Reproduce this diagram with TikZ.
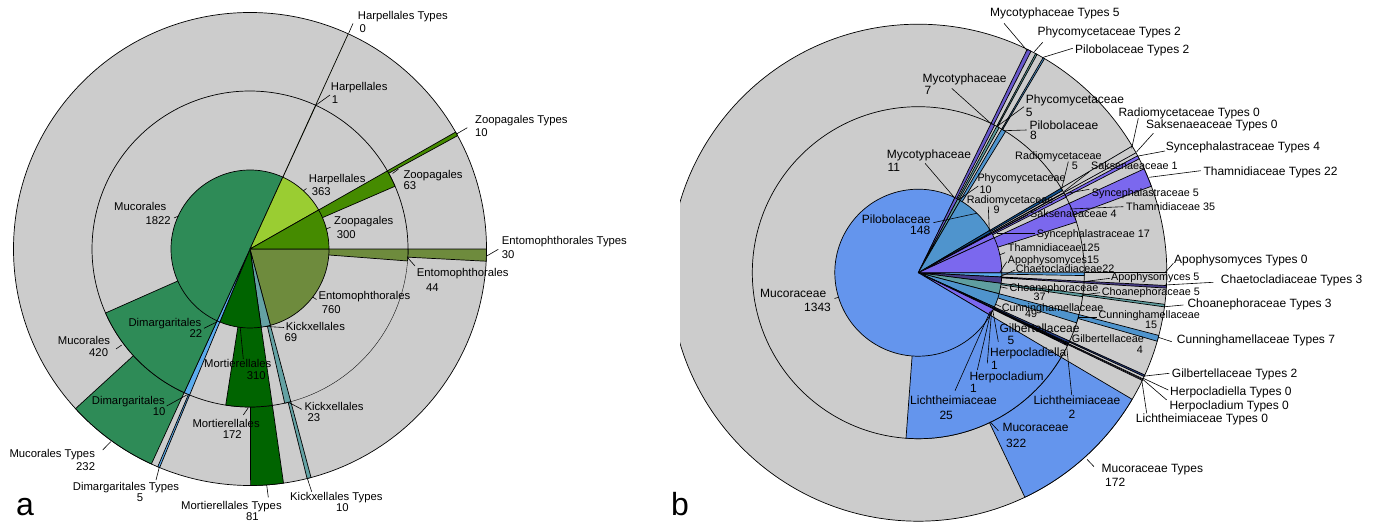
\documentclass[tikz,border=0pt]{standalone}
\usepackage{fontspec}
\setmainfont{Liberation Sans}
\usepackage{xcolor}
\usepackage{tikz}
\usetikzlibrary{
	calc								% Calculate point coordinates
}
\definecolor{ringgrey}{HTML}{CCCCCC}
% Orders (panel a)
\definecolor{entoCol}{HTML}{6E8B3D}
\definecolor{kickCol}{HTML}{64A2A4}
\definecolor{mortCol}{HTML}{006400}
\definecolor{dimaCol}{HTML}{5CACEE}
\definecolor{mucoACol}{HTML}{2E8B57}
\definecolor{harpCol}{HTML}{9ACD32}
\definecolor{zoopCol}{HTML}{458B00}
% Families (panel b)
\definecolor{apoCol}{HTML}{5CACEE}
\definecolor{chaeCol}{HTML}{483D8B}
\definecolor{choaCol}{HTML}{5F9EA0}
\definecolor{cunnCol}{HTML}{4F94CD}
\definecolor{gilbCol}{HTML}{27408B}
\definecolor{hplaCol}{HTML}{483D8B}
\definecolor{hplmCol}{HTML}{27408B}
\definecolor{lichCol}{HTML}{7B68EE}
\definecolor{mucoBCol}{HTML}{6495ED}
\definecolor{mycoCol}{HTML}{6959CD}
\definecolor{phycCol}{HTML}{5F9EA0}
\definecolor{piloCol}{HTML}{4F94CD}
\definecolor{radiCol}{HTML}{104E8B}
\definecolor{saksCol}{HTML}{7B68EE}
\definecolor{syncCol}{HTML}{7B68EE}
\definecolor{thamCol}{HTML}{7B68EE}

\begin{document}
\begin{tikzpicture}[x=1pt, y=1pt]
		\tikzstyle{wedge} = [draw=black, line width=0.7pt, line join=round]
		\tikzstyle{leader} = [draw=black, line width=0.6pt]
		\tikzstyle{lblA} = [font=\fontsize{11.3}{13}\selectfont, inner sep=0pt, anchor=base west]
		\tikzstyle{lblB} = [font=\fontsize{12}{14}\selectfont, inner sep=0pt, anchor=base west]
		\tikzstyle{lblBs} = [font=\fontsize{10.8}{12}\selectfont, inner sep=0pt, anchor=base west]
		\tikzstyle{panel} = [font=\fontsize{32}{32}\selectfont, inner sep=0pt, anchor=base west]
		\path[use as bounding box] (0,0) rectangle (1383,523);
		
		% Panel a: orders
		\coordinate (aCenter) at (250,274);
		\def\unitA{0.0987383}
		%% start angle / inner / middle / outer / colour
		\def\ordersA{0/760/44/30/entoCol, -75.0411/69/23/10/kickCol, -81.8540/310/172/81/mortCol, -112.4629/22/22/5/dimaCol, -114.6351/1822/420/232/mucoACol, -294.5363/363/1/0/harpCol, -330.3783/300/63/10/zoopCol}
		%% Outer ring (types)
		\filldraw[wedge, fill=ringgrey] (aCenter) circle[radius=236.5];
		\foreach \st/\nIn/\nMid/\nOut/\col in \ordersA{
			\pgfmathsetmacro{\w}{\nOut*\unitA}
			\filldraw[wedge, fill=\col] (aCenter) -- ++(\st:236.5) arc[start angle=\st, delta angle=-\w, radius=236.5] -- cycle;
		}
		%% Middle ring
		\fill[ringgrey] (aCenter) circle[radius=158];
		\draw[line width=0.7pt] (aCenter) ++(-4.3446:158) arc[start angle=-4.3446, end angle=284.9589, radius=158];
		\draw[line width=0.35pt] (aCenter) ++(-75.0411:158) arc[start angle=-75.0411, end angle=-4.3446, radius=158];
		\foreach \st/\nIn/\nMid/\nOut/\col in \ordersA{
			\pgfmathsetmacro{\w}{\nMid*\unitA}
			\filldraw[wedge, fill=\col] (aCenter) -- ++(\st:158) arc[start angle=\st, delta angle=-\w, radius=158] -- cycle;
		}
		%% Inner pie
		\foreach \st/\nIn/\nMid/\nOut/\col in \ordersA{
			\pgfmathsetmacro{\w}{\nIn*\unitA}
			\filldraw[wedge, fill=\col] (aCenter) -- ++(\st:79) arc[start angle=\st, delta angle=-\w, radius=79] -- cycle;
		}
		
		% Panel b: families of Mucorales
		\coordinate (bCenter) at (918.3,250.3);
		\def\unitB{0.1975851}
		\def\famsB{0/15/5/0/apoCol, -2.9638/22/3/3/chaeCol, -7.3107/37/5/3/choaCol, -14.6213/49/15/7/cunnCol, -24.3030/5/4/2/gilbCol, -25.2909/1/1/0/hplaCol, -25.4885/1/1/0/hplmCol, -25.6861/25/2/0/lichCol, -30.6257/1343/322/172/mucoBCol, -295.9825/11/7/5/mycoCol, -298.1559/10/5/2/phycCol, -300.1318/148/8/2/piloCol, -329.3744/9/5/0/radiCol, -331.1527/4/1/0/saksCol, -331.9430/17/5/4/syncCol, -335.3019/125/35/22/thamCol}
		\begin{scope}
			\clip (680,0) rectangle (1383,523);
			%% Outer ring (types)
			\filldraw[wedge, fill=ringgrey] (bCenter) circle[radius=248.5];
			\foreach \st/\nIn/\nMid/\nOut/\col in \famsB{
				\pgfmathsetmacro{\w}{\nOut*\unitB}
				\filldraw[wedge, fill=\col] (bCenter) -- ++(\st:248.5) arc[start angle=\st, delta angle=-\w, radius=248.5] -- cycle;
			}
			%% Middle ring
			\filldraw[wedge, fill=ringgrey] (bCenter) circle[radius=166];
			\foreach \st/\nIn/\nMid/\nOut/\col in \famsB{
				\pgfmathsetmacro{\w}{\nMid*\unitB}
				\filldraw[wedge, fill=\col] (bCenter) -- ++(\st:166) arc[start angle=\st, delta angle=-\w, radius=166] -- cycle;
			}
			%% Inner pie
			\foreach \st/\nIn/\nMid/\nOut/\col in \famsB{
				\pgfmathsetmacro{\w}{\nIn*\unitB}
				\filldraw[wedge, fill=\col] (bCenter) -- ++(\st:83.5) arc[start angle=\st, delta angle=-\w, radius=83.5] -- cycle;
			}
		\end{scope}
		
		% Labels (image coordinates, y downwards)
		\begin{scope}[yshift=523pt, yscale=-1]
			%% Panel a
			\foreach \nm/\x/\y/\txt/\vx/\vy/\val in {HarpT/357.7/19.1/Harpellales Types/359.3/32.4/0, HarpM/330.7/90.1/Harpellales/331.7/103.1/1, ZoopT/475/123.1/Zoopagales Types/475/136.4/10, ZoopM/403.3/178.1/Zoopagales/403.3/189.8/63, HarpI/308.7/182.1/Harpellales/311.7/195.8/363, ZoopI/334/224.4/Zoopagales/336.7/238.1/300, MucoI/114/210.1/Mucorales/145.3/224.1/1822, EntoI/318.3/299.1/Entomophthorales/321.7/313.1/760, KickI/285.7/330.8/Kickxellales/284.3/341.8/69, DimaI/128.3/326.4/Dimargaritales/189.3/337.4/22, MortI/204/367.4/Mortierellales/246.7/379.1/310, MucoM/57.7/344.1/Mucorales/89/356.8/420, DimaM/91.7/404.8/Dimargaritales/152.7/415.8/10, MortM/192.3/427.4/Mortierellales/222.7/438.1/172, KickM/304.3/410.1/Kickxellales/307.3/421.8/23, EntoM/416.7/276.1/Entomophthorales/426/291.8/44, EntoT/501.7/244.1/Entomophthorales Types/501.7/258.1/30, MucoT/9.3/457.4/Mucorales Types/76/470.8/232, DimaT/72.7/490.1/Dimargaritales Types/136.7/501.8/5, MortT/181/509.1/Mortierellales Types/246/520.8/81, KickT/290/500.1/Kickxellales Types/336/511.8/10}{
				\node[lblA] (aName\nm) at (\x,\y) {\txt};
				\node[lblA] (aVal\nm) at (\vx,\vy) {\val};
			}
			\foreach \nm/\xa/\ya/\xb/\yb in {HarpT/348.6/33.4/353/23.4, HarpM/315.7/105.3/330/95, ZoopT/457/133.7/467.3/127.7, ZoopM/392.5/173.5/398.5/169, HarpI/303.4/190.8/306.5/188.5, ZoopI/326.4/228.8/330.5/227.3, MucoI/178.2/216.1/174/218, EntoI/312.7/297.1/316.5/299.5, KickI/266/326.5/284/327.5, DimaI/217.3/321.7/204/328.3, MortI/240.2/327.4/243.3/359, MucoM/121.7/345/116/349, DimaM/186.7/395/166.7/406, MortM/248.3/407.7/243.3/415, KickM/289.3/402.7/301.7/409.3, EntoM/407.3/257.3/415/266, EntoT/486.7/256/498.3/249.3, MucoT/110.7/441.7/102.7/450, DimaT/159.3/467.3/156/480, MortT/266.7/485/268.3/497.3, KickT/307.3/478.3/311.7/491.7}{
				\coordinate (aTip\nm) at (\xa,\ya);
				\coordinate (aEnd\nm) at (\xb,\yb);
				\draw[leader] (aTip\nm) -- (aEnd\nm);
			}
			
			%% Panel b: one-line labels
			\foreach \nm/\x/\y/\txt/\sz in {MycoT/990/16.6/Mycotyphaceae Types 5/lblB, PhycT/1037.3/35.3/Phycomycetaceae Types 2/lblB, PiloT/1075/53.3/Pilobolaceae Types 2/lblB, RadiT/1118.3/116.3/Radiomycetaceae Types 0/lblB, SaksT/1146/128.3/Saksenaeaceae Types 0/lblB, SyncT/1165.7/150.3/Syncephalastraceae Types 4/lblB, ThamT/1203.3/175/Thamnidiaceae Types 22/lblB, ApoT/1174/263.6/Apophysomyces Types 0/lblB, ChaeT/1220.7/283.3/Chaetocladiaceae Types 3/lblB, ChoaT/1187.3/307.6/Choanephoraceae Types 3/lblB, CunnT/1176.7/343.6/Cunninghamellaceae Types 7/lblB, GilbT/1171.7/377/Gilbertellaceae Types 2/lblB, HplaT/1170/395.3/Herpocladiella Types 0/lblB, HplmT/1169.3/409.6/Herpocladium Types 0/lblB, LichT/1135.7/422.6/Lichtheimiaceae Types 0/lblB, SaksM/1091/169.9/Saksenaeaceae 1/lblBs, SyncM/1091.7/196.2/Syncephalastraceae 5/lblBs, ThamM/1126/210.6/Thamnidiaceae 35/lblBs, ApoM/1111/280.6/Apophysomyces 5/lblBs, ChoaM/1101.7/295.6/Choanephoraceae 5/lblBs, SaksI/1030/217.2/Saksenaeaceae 4/lblBs, SyncI/1036.7/237.2/Syncephalastraceae 17/lblBs, ThamI/1007.7/251.6/Thamnidiaceae125/lblBs, ApoI/1007.7/263.2/Apophysomyces15/lblBs, ChaeI/1015.7/272.2/Chaetocladiaceae22/lblBs}{
				\node[\sz] (bName\nm) at (\x,\y) {\txt};
			}
			%% Panel b: two-line labels
			\foreach \nm/\x/\y/\txt/\vx/\vy/\val/\sz in {MucoT/1101.5/472.6/Mucoraceae Types/1105/486.6/172/lblB, MycoM/922.3/82.6/Mycotyphaceae/924.3/94.3/7/lblB, PhycM/1025.7/103.6/Phycomycetaceae/1025.7/117/5/lblB, PiloM/1029.3/129.3/Pilobolaceae/1030/139.3/8/lblB, RadiM/1015/159.1/Radiomycetaceae/1071.7/169.1/5/lblBs, CunnM/1098.3/318.9/Cunninghamellaceae/1145/328.2/15/lblBs, GilbM/1071.7/342.2/Gilbertellaceae/1136.7/353.9/4/lblBs, LichM/1033.3/404.3/Lichtheimiaceae/1068.3/418.3/2/lblB, MucoM/1002.3/431.6/Mucoraceae/1006/447/322/lblB, PiloI/861.7/223.3/Pilobolaceae/910/234.3/148/lblB, MycoI/886.7/158.3/Mycotyphaceae/887.3/171/11/lblB, PhycI/977.3/181.2/Phycomycetaceae/979.3/193.2/10/lblBs, RadiI/966.7/203.9/Radiomycetaceae/993.3/213.9/9/lblBs, ChoaI/1009.3/291.2/Choanephoraceae/1033.3/300.6/37/lblBs, CunnI/1001.7/311.2/Cunninghamellaceae/1025/317.9/49/lblBs, GilbI/999.3/332.6/Gilbertellaceae/1007.3/344.3/5/lblB, HplaI/990/356/Herpocladiella/991/369.3/1/lblB, HplmI/969.3/380.3/Herpocladium/970/392.6/1/lblB, LichI/910/404.3/Lichtheimiaceae/939.3/419.3/25/lblB, MucoI/760/297/Mucoraceae/804/311/1343/lblB}{
				\node[\sz] (bName\nm) at (\x,\y) {\txt};
				\node[\sz] (bVal\nm) at (\vx,\vy) {\val};
			}
			%% Panel b: leaders
			\foreach \nm/\xa/\ya/\xb/\yb in {MycoT/1027.5/51/1004/23.3, PhycT/1034.3/51.7/1042.7/42.3, PiloT/1043.3/57.3/1072.7/48.3, MycoM/991.5/124/951.7/88.3, PhycM/996.7/126.7/1024/106.7, PiloM/1003.3/130.7/1026.7/130, RadiT/1131.7/148.3/1138.3/118.3, SaksT/1136.7/151.7/1153.3/133.3, SyncT/1138.3/156/1165/151, ThamT/1149.3/177.3/1200.7/170.7, ApoT/1165/272.7/1173.3/263.3, ChaeT/1165/285/1213.3/282.3, ChoaT/1165/306.7/1183.3/305, CunnT/1158.3/337.3/1171.7/341.7, GilbT/1145/376/1169.3/373.3, HplaT/1143.3/378.3/1168.3/390, HplmT/1142.7/379.3/1166.7/400, LichT/1141.7/380/1146.7/413.3, MucoT/1087/459.3/1094/466.7, RadiM/1061.7/188.3/1068.3/161.7, SaksM/1064/191.5/1089/172, SyncM/1066.7/193.3/1089.3/189.3, ThamM/1070/209/1123.3/206.7, ApoM/1083.3/281.7/1110/278.3, ChoaM/1081.7/295/1100/292.7, CunnM/1078.3/317.3/1096.7/317.3, GilbM/1065/341.7/1070/340, LichM/1066.7/346.7/1071.7/395, MucoM/990/421.7/998.3/430.7, PiloI/976.7/213.3/933.3/222.7, MycoI/955/198.3/925/163.3, PhycI/958.3/200/978.3/186, RadiI/989.3/231.7/988.3/206.7, SaksI/993.3/232.7/1028/215, SyncI/996.7/233.3/1035/233.3, ThamI/999.3/255/1005/252.7, ApoI/1000/272/1006.7/261.7, ChaeI/1000/276.7/1015/270, ChoaI/1000/286.7/1007.3/288.3, CunnI/995/304/1000.7/306.7, GilbI/992.7/310/998.3/341.7, HplaI/991.7/310.5/987.3/363.3, HplmI/991/311/977.3/370, LichI/990/311.7/955/390.7, MucoI/838.5/297.3/834.5/298.5}{
				\coordinate (bTip\nm) at (\xa,\ya);
				\coordinate (bEnd\nm) at (\xb,\yb);
				\draw[leader] (bTip\nm) -- (bEnd\nm);
			}
			
			%% Panel letters
			\node[panel] (panelA) at (16,515) {a};
			\node[panel] (panelB) at (671,515) {b};
		\end{scope}
	\end{tikzpicture}
\end{document}
